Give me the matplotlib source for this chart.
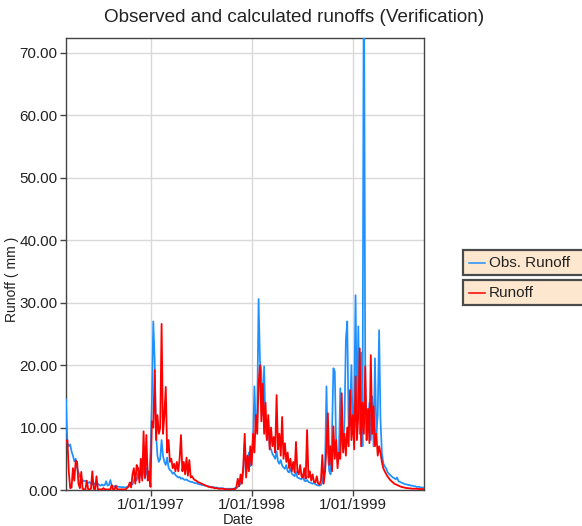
import matplotlib
matplotlib.use("Agg")
import matplotlib.pyplot as plt
import matplotlib.dates as mdates
from matplotlib.patches import Rectangle
from matplotlib.lines import Line2D
import pandas as pd

plt.rcParams['font.family'] = ['Liberation Sans', 'DejaVu Sans']

# Five-day runoff values (mm) from 1 March 1996
start_date = "1996-03-01"
step_days = 5

obs_runoff = [
    14.5, 7.6, 7.0, 7.3, 6.2, 5.5, 4.6, 5.0, 3.6, 2.8,
    2.2, 1.8, 1.6, 1.4, 1.5, 1.2, 1.1, 1.3, 1.0, 0.9,
    1.1, 0.9, 0.8, 1.0, 0.8, 0.7, 0.9, 0.7, 0.8, 1.4,
    0.7, 0.8, 1.6, 0.7, 0.6, 0.6, 0.5, 0.6, 0.5, 0.5,
    0.4, 0.5, 0.4, 0.4, 0.5, 0.6, 0.8, 1.2, 0.9, 1.6,
    2.0, 1.5, 2.6, 1.8, 3.2, 2.0, 4.3, 1.8, 3.5, 2.2,
    2.5, 6.0, 14.4, 27.0, 20.8, 9.0, 5.5, 4.5, 5.0, 8.0,
    5.5, 4.5, 4.0, 5.2, 3.6, 3.2, 3.0, 2.6, 2.8, 2.4,
    2.2, 2.0, 2.1, 1.8, 1.9, 1.7, 1.6, 1.7, 1.5, 1.4,
    1.3, 1.3, 1.2, 1.1, 1.1, 1.0, 0.9, 0.9, 0.8, 0.8,
    0.7, 0.7, 0.6, 0.6, 0.5, 0.5, 0.5, 0.4, 0.4, 0.4,
    0.3, 0.3, 0.3, 0.3, 0.2, 0.2, 0.2, 0.2, 0.2, 0.2,
    0.2, 0.2, 0.3, 0.3, 0.5, 0.7, 1.0, 1.8, 3.0, 7.4,
    3.5, 4.5, 6.0, 3.8, 5.5, 8.0, 16.6, 10.0, 12.0, 30.6,
    20.6, 19.0, 12.0, 19.8, 10.0, 8.0, 11.0, 7.0, 6.5, 5.8,
    5.4, 5.0, 6.2, 4.6, 4.2, 4.8, 3.9, 3.6, 3.4, 4.0,
    3.0, 2.8, 3.5, 2.6, 2.4, 2.2, 2.9, 2.0, 1.9, 1.8,
    1.7, 2.4, 1.5, 1.4, 1.6, 1.3, 1.2, 1.1, 1.0, 1.2,
    0.9, 0.8, 0.7, 0.7, 0.8, 1.2, 2.5, 4.0, 16.6, 6.0,
    3.0, 2.5, 9.0, 19.5, 19.0, 7.0, 4.5, 6.0, 16.3, 8.0,
    6.5, 11.0, 24.0, 27.0, 10.0, 12.0, 20.0, 9.0, 14.0, 31.2,
    11.0, 26.2, 9.0, 22.0, 7.0, 90.0, 17.6, 8.0, 10.0, 14.0,
    8.0, 15.0, 7.0, 21.1, 9.0, 12.0, 25.6, 11.2, 6.0, 4.3,
    3.8, 3.5, 2.9, 2.6, 2.4, 2.2, 2.0, 1.9, 1.7, 2.0,
    1.4, 1.3, 1.2, 1.1, 1.0, 0.9, 0.9, 0.8, 0.8, 0.7,
    0.7, 0.6, 0.6, 0.5, 0.5, 0.5, 0.4, 0.4, 0.4,
]

calc_runoff = [
    7.8, 8.0, 3.0, 0.3, 0.4, 3.5, 1.5, 4.7, 4.5, 1.0,
    0.3, 2.9, 0.2, 0.1, 0.1, 1.5, 0.1, 0.1, 0.2, 3.0,
    0.2, 0.1, 2.2, 0.1, 0.1, 0.1, 0.1, 0.3, 0.1, 0.1,
    0.1, 0.1, 0.1, 0.8, 0.1, 0.1, 0.7, 0.1, 0.1, 0.1,
    0.1, 0.1, 0.1, 0.1, 0.3, 0.5, 1.2, 0.4, 2.5, 3.5,
    1.0, 4.0, 3.5, 1.2, 5.0, 1.5, 9.4, 2.0, 8.8, 1.5,
    3.0, 0.5, 11.0, 10.0, 19.2, 8.0, 12.0, 9.0, 10.0, 26.6,
    9.0, 12.0, 16.5, 6.0, 8.0, 4.5, 5.0, 3.5, 4.2, 3.0,
    4.5, 3.0, 5.0, 8.8, 3.0, 4.5, 2.5, 5.2, 2.3, 4.8,
    2.0, 2.2, 1.8, 1.6, 1.5, 1.3, 1.2, 1.1, 1.0, 0.9,
    0.8, 0.7, 0.6, 0.5, 0.5, 0.4, 0.4, 0.3, 0.3, 0.3,
    0.2, 0.2, 0.2, 0.2, 0.2, 0.1, 0.1, 0.1, 0.1, 0.1,
    0.1, 0.2, 0.1, 0.5, 1.8, 0.6, 2.5, 1.0, 4.0, 9.0,
    2.0, 5.5, 3.0, 7.0, 4.0, 9.0, 6.0, 12.0, 9.0, 17.0,
    20.0, 11.0, 17.0, 9.0, 14.0, 8.0, 12.0, 6.5, 10.0, 7.0,
    8.5, 6.0, 15.2, 6.5, 9.0, 5.5, 11.7, 5.0, 7.5, 4.5,
    6.0, 3.5, 5.0, 3.0, 4.5, 2.8, 7.7, 3.0, 2.5, 4.0,
    2.2, 2.0, 3.5, 1.8, 9.6, 2.0, 3.0, 1.5, 2.5, 1.3,
    1.2, 2.2, 1.0, 0.9, 1.5, 5.6, 1.0, 3.0, 7.0, 12.3,
    4.0, 7.0, 3.0, 10.2, 5.0, 8.0, 3.5, 6.0, 5.0, 15.5,
    6.0, 9.0, 5.5, 10.0, 7.0, 16.0, 8.0, 12.0, 6.5, 18.2,
    8.0, 12.0, 22.7, 7.0, 14.0, 9.0, 19.8, 8.0, 13.0, 7.5,
    21.6, 9.0, 13.4, 7.0, 9.0, 5.5, 7.0, 5.9, 4.5, 3.5,
    3.0, 2.6, 2.2, 1.9, 1.6, 1.4, 1.2, 1.0, 0.9, 0.8,
    0.7, 0.6, 0.5, 0.45, 0.4, 0.35, 0.3, 0.3, 0.25, 0.25,
    0.2, 0.2, 0.2, 0.2, 0.2, 0.15, 0.15, 0.15, 0.15,
]

series_labels = ["Obs. Runoff", "Runoff"]
series_colors = ["#1E90FF", "#FF0000"]
year_ticks = ["1997-01-01", "1998-01-01", "1999-01-01"]
y_ticks = [0, 10, 20, 30, 40, 50, 60, 70]

dates = pd.date_range(start_date, periods=len(obs_runoff), freq=f"{step_days}D")

W, H = 582, 526
fig = plt.figure(figsize=(W / 100, H / 100), dpi=100)
ax = fig.add_axes([66 / W, 1 - 490 / H, (424 - 66) / W, (490 - 38) / H])

ax.plot(dates, obs_runoff, color=series_colors[0], lw=1.25, zorder=3)
ax.plot(dates, calc_runoff, color=series_colors[1], lw=1.3, zorder=4)

ax.set_xlim(pd.Timestamp("1996-03-01"), pd.Timestamp("1999-09-14"))
ax.set_ylim(0, 72.4)
ax.set_yticks(y_ticks)
ax.set_yticklabels([f"{v:.2f}" for v in y_ticks])
ax.set_xticks([pd.Timestamp(d) for d in year_ticks])
ax.xaxis.set_major_formatter(mdates.DateFormatter("%-d/%m/%Y"))

ax.grid(True, color="#D9D9D9", lw=1.0, zorder=0)
ax.set_axisbelow(True)
for sp in ax.spines.values():
    sp.set_color("#444444")
    sp.set_linewidth(1.0)
ax.tick_params(axis="both", direction="out", length=4, width=1.0,
               color="#444444", labelsize=11, labelcolor="#222222", pad=2)

fig.text(294 / W, 1 - 17 / H, "Observed and calculated runoffs (Verification)",
         ha="center", va="center", fontsize=13.6, color="#222222")
fig.text(12 / W, 1 - 279 / H, "Runoff ( mm )", rotation=90,
         ha="center", va="center", fontsize=10, color="#222222")
fig.text(238 / W, 1 - 513.5 / H, "Date", ha="center", va="top",
         fontsize=10.5, color="#222222")

# Separate legend boxes on the right
for i, (label, color) in enumerate(zip(series_labels, series_colors)):
    top = 250 + i * 30
    fig.patches.append(Rectangle((462.5 / W, 1 - (top + 25) / H), 140 / W, 25 / H,
                                 transform=fig.transFigure, facecolor="#FDE8CF",
                                 edgecolor="#4A4A4A", lw=1.6))
    yc = 1 - (top + 12.7) / H
    fig.lines.append(Line2D([469 / W, 485 / W], [yc, yc], color=color, lw=1.1,
                            transform=fig.transFigure))
    fig.text(489 / W, yc, label, ha="left", va="center", fontsize=11,
             color="#222222")

fig.savefig("out.png", dpi=100)
